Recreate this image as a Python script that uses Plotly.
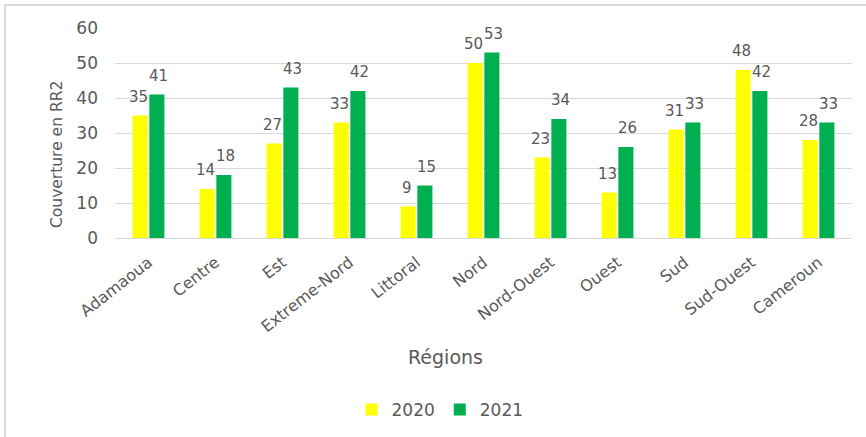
import plotly.graph_objects as go

regions = ["Adamaoua", "Centre", "Est", "Extreme-Nord", "Littoral", "Nord",
           "Nord-Ouest", "Ouest", "Sud", "Sud-Ouest", "Cameroun"]
v2020 = [35, 14, 27, 33, 9, 50, 23, 13, 31, 48, 28]
v2021 = [41, 18, 43, 42, 15, 53, 34, 26, 33, 42, 33]
series = [("2020", v2020, "#FFFF00"), ("2021", v2021, "#00B050")]

W, H = 866, 437
ml, mr, mt, mb = 115, 14, 28, 199
txt = "#595959"
font = "DejaVu Sans"
pw = W - ml - mr
ph = H - mt - mb

fig = go.Figure()
for name, vals, col in series:
    fig.add_trace(go.Bar(name=name, x=regions, y=vals, marker_color=col,
                         marker_line=dict(width=0)))

# data labels (above bars, with gap like Excel)
bar_off = 8.6
for k, (name, vals, col) in enumerate(series):
    for r, v in zip(regions, vals):
        fig.add_annotation(x=r, y=v, text=str(v), showarrow=False,
                           xref="x", yref="y", xanchor="center", yanchor="bottom",
                           xshift=(-bar_off - 1 if k == 0 else bar_off + 1), yshift=8,
                           font=dict(size=15, color=txt, family=font))

fig.add_shape(type="rect", xref="paper", yref="paper",
              x0=(5 - ml) / pw, x1=(W + 10 - ml) / pw,
              y0=-(H + 10 - mt - ph) / ph, y1=(ph + mt - 5) / ph,
              line=dict(color="#d9d9d9", width=2), layer="below")

fig.add_annotation(text="Régions", xref="paper", yref="paper",
                   x=(445 - ml) / pw, y=-(357 - mt - ph) / ph, showarrow=False,
                   xanchor="center", yanchor="middle",
                   font=dict(size=19, color=txt, family=font))
fig.add_annotation(text="Couverture en RR2", xref="paper", yref="paper",
                   x=(57 - ml) / pw, y=(mt + ph - 155) / ph, showarrow=False,
                   xanchor="center", yanchor="middle", textangle=-90,
                   font=dict(size=15.5, color=txt, family=font))

fig.update_layout(
    width=W, height=H, margin=dict(l=ml, r=mr, t=mt, b=mb, autoexpand=False),
    paper_bgcolor="white", plot_bgcolor="white",
    barmode="group", bargap=0.5, bargroupgap=0.1,
    font=dict(family=font, color=txt, size=14),
    showlegend=True,
    legend=dict(orientation="h", x=(440 - ml) / pw, xanchor="center",
                y=-(410 - mt - ph) / ph, yanchor="middle",
                font=dict(size=17, color=txt, family=font), traceorder="normal",
                itemwidth=30),
    xaxis=dict(tickangle=-38, tickfont=dict(size=16, color=txt, family=font),
               automargin=False, ticklabelstandoff=8,
               showline=True, linecolor="#d9d9d9", linewidth=1, ticks=""),
    yaxis=dict(range=[0, 60], dtick=10, showgrid=True, gridcolor="#d9d9d9",
               tickfont=dict(size=17, color=txt, family=font), zeroline=False,
               automargin=False, ticklabelstandoff=16),
)
fig.write_html("out.html")
